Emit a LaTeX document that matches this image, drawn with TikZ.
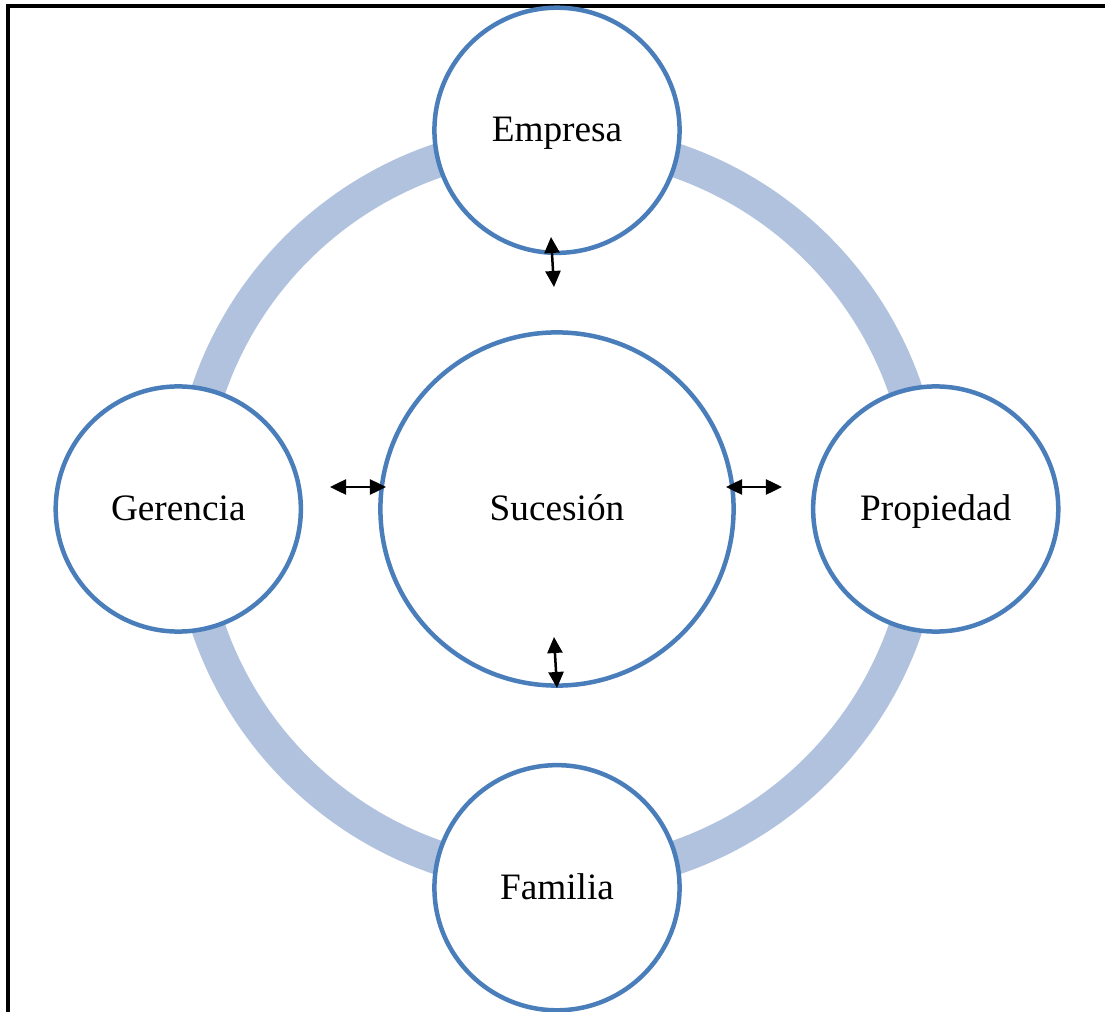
\documentclass[tikz,border=0pt]{standalone}
\usepackage{fontspec}
\setmainfont{Liberation Serif}
\usetikzlibrary{arrows.meta,positioning}
\definecolor{ringblue}{RGB}{176,194,222}
\definecolor{edgeblue}{RGB}{74,126,187}

\begin{document}
\begin{tikzpicture}[x=0.01cm, y=-0.01cm,
  part/.style={circle, draw=edgeblue, line width=0.045cm, fill=white,
    inner sep=0pt, minimum size=2.45cm, text height=0.66em, text depth=0pt,
    font=\fontsize{10.6}{12}\selectfont},
  link/.style={<->, >={Triangle[length=0.16cm, width=0.15cm]},
    line width=0.025cm}
]
  \useasboundingbox (0,0) rectangle (1105,1012);
  \draw[line width=0.03cm] (8,1012) -- (8,6) -- (1105,6);

  \node[part, minimum size=3.53cm] (suc) at (557,509) {Sucesión};
  \draw[ringblue, line width=0.34cm] (suc.center) circle[radius=3.68cm];

  \node[part, above=0.75cm of suc] (emp) {Empresa};
  \node[part, left=0.75cm of suc] (ger) {Gerencia};
  \node[part, right=0.75cm of suc] (pro) {Propiedad};
  \node[part, below=0.75cm of suc] (fam) {Familia};

  % arrows between the rings
  \coordinate (up1) at (551,237);
  \coordinate (up2) at (554,287);
  \coordinate (lf1) at (330,487);
  \coordinate (lf2) at (386,487);
  \coordinate (rt1) at (726,487);
  \coordinate (rt2) at (782,487);
  \coordinate (dn1) at (554,637);
  \coordinate (dn2) at (557,688);
  \draw[link] (up1) -- (up2);
  \draw[link] (lf1) -- (lf2);
  \draw[link] (rt1) -- (rt2);
  \draw[link] (dn1) -- (dn2);
\end{tikzpicture}
\end{document}
